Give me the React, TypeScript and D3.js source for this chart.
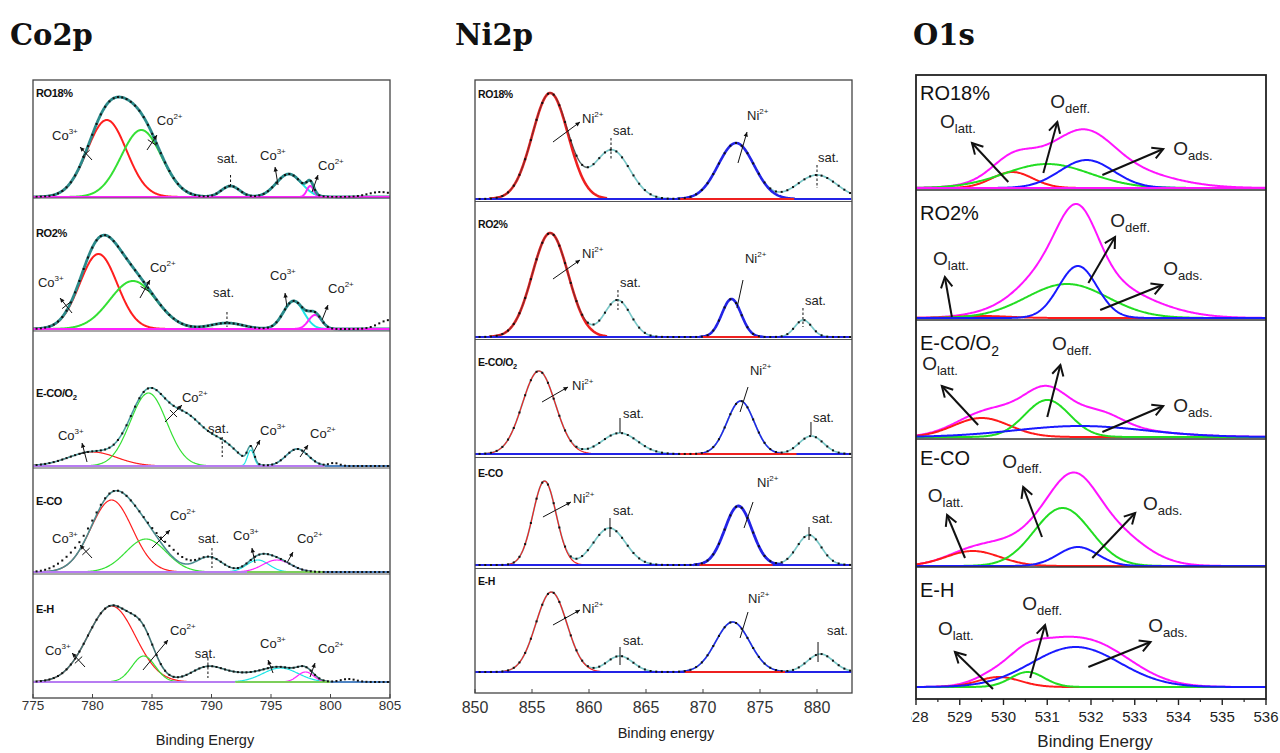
import React from 'react';
import * as d3 from 'd3';

type Peak = { kind: string; c: number; h: number; w: number }; // c: eV, h: a.u., w: FWHM in eV
type Note = {
  text: string;
  sup?: string;
  sub?: string;
  at: [number, number];
  line?: [number, number, number, number];
  head?: boolean;
  cross?: boolean;
  dash?: boolean;
};

const sampleNames = ['RO18%', 'RO2%', 'E-CO/O2', 'E-CO', 'E-H'];

// ---------------- Co2p ----------------
const coTicks = [775, 780, 785, 790, 795, 800, 805];

const coRO18Peaks: Peak[] = [
  { kind: 'co3', c: 781.2, h: 77, w: 3.9 },
  { kind: 'co2', c: 784.1, h: 67, w: 4.0 },
  { kind: 'sat', c: 791.6, h: 11, w: 1.8 },
  { kind: 'co3b', c: 796.5, h: 23, w: 2.5 },
  { kind: 'co2b', c: 798.3, h: 11, w: 0.7 },
];
const coRO18Raw: Peak[] = [{ kind: 'raw', c: 804.2, h: 5, w: 2.5 }];
const coRO18Notes: Note[] = [
  { text: 'Co', sup: '3+', at: [776.6, 57], line: [779.96, 37, 778.95, 50], head: true, cross: true },
  { text: 'Co', sup: '2+', at: [785.4, 72], line: [784.58, 47, 785.42, 62], head: true, cross: true },
  { text: 'sat.', at: [790.46, 34], line: [791.6, 22, 791.6, 10], dash: true },
  { text: 'Co', sup: '3+', at: [794.08, 37], line: [795.59, 12, 795.34, 30], head: true },
  { text: 'Co', sup: '2+', at: [798.95, 27], line: [798.45, 5, 798.95, 22], head: true },
];

const coRO2Peaks: Peak[] = [
  { kind: 'co3', c: 780.5, h: 75, w: 3.7 },
  { kind: 'co2', c: 783.4, h: 48, w: 4.6 },
  { kind: 'sat', c: 791.3, h: 6, w: 3.2 },
  { kind: 'co3b', c: 796.9, h: 28, w: 2.0 },
  { kind: 'co2b', c: 798.7, h: 14, w: 1.3 },
];
const coRO2Raw: Peak[] = [{ kind: 'raw', c: 805, h: 9, w: 2.2 }];
const coRO2Notes: Note[] = [
  { text: 'Co', sup: '3+', at: [775.42, 42], line: [778.28, 16, 777.27, 31], head: true, cross: true },
  { text: 'Co', sup: '2+', at: [784.83, 57], line: [783.99, 31, 784.83, 49], head: true, cross: true },
  { text: 'sat.', at: [790.13, 32], line: [791.3, 17, 791.3, 2], dash: true },
  { text: 'Co', sup: '3+', at: [794.92, 49], line: [796.34, 22, 796.18, 36], head: true },
  { text: 'Co', sup: '2+', at: [799.79, 36], line: [799.29, 9, 799.79, 24], head: true },
];

const coECOO2Peaks: Peak[] = [
  { kind: 'co3', c: 780.0, h: 14, w: 4.8 },
  { kind: 'co2', c: 784.7, h: 73, w: 3.6 },
  { kind: 'sat', c: 788.0, h: 44, w: 3.5 },
  { kind: 'sat', c: 791.0, h: 20, w: 3.0 },
  { kind: 'co3b', c: 793.3, h: 16, w: 0.65 },
  { kind: 'co2b', c: 797.2, h: 17, w: 2.2 },
];
const coECOO2Raw: Peak[] = [{ kind: 'raw', c: 800.3, h: 3, w: 1 }];
const coECOO2Notes: Note[] = [
  { text: 'Co', sup: '3+', at: [777.1, 26], line: [779.54, 4, 779.12, 23], head: true, cross: true },
  { text: 'Co', sup: '2+', at: [787.52, 64], line: [786.09, 44, 787.52, 61], head: true, cross: true },
  { text: 'sat.', at: [789.71, 33], line: [790.9, 29, 790.9, 9], dash: true },
  { text: 'Co', sup: '3+', at: [794.08, 31], line: [793.49, 13, 794.08, 26], head: true },
  { text: 'Co', sup: '2+', at: [798.28, 28], line: [797.44, 9, 798.11, 21], head: true },
];

const coECOPeaks: Peak[] = [
  { kind: 'co3', c: 781.6, h: 72, w: 4.1 },
  { kind: 'co2', c: 784.5, h: 33, w: 4.0 },
  { kind: 'sat', c: 789.8, h: 15, w: 2.6 },
  { kind: 'co3b', c: 793.9, h: 12, w: 2.2 },
  { kind: 'co2b', c: 795.5, h: 12, w: 2.8 },
];
const coECORaw: Peak[] = [
  { kind: 'raw', c: 778.3, h: 9, w: 3 },
  { kind: 'raw', c: 786.8, h: 8, w: 2.5 },
];
const coECONotes: Note[] = [
  { text: 'Co', sup: '3+', at: [776.6, 29], line: [779.96, 14, 778.95, 27], head: true, cross: true },
  { text: 'Co', sup: '2+', at: [786.51, 52], line: [785.0, 24, 786.51, 42], head: true, cross: true },
  { text: 'sat.', at: [788.87, 29], line: [790.04, 24, 790.04, 4], dash: true },
  { text: 'Co', sup: '3+', at: [791.81, 32], line: [793.66, 9, 793.4, 24], head: true },
  { text: 'Co', sup: '2+', at: [797.18, 29], line: [796.34, 9, 796.85, 20], head: true },
];

const coEHPeaks: Peak[] = [
  { kind: 'co3', c: 781.6, h: 76, w: 4.7 },
  { kind: 'co2', c: 784.3, h: 26, w: 2.3 },
  { kind: 'sat', c: 789.6, h: 14, w: 3.2 },
  { kind: 'sat', c: 792.5, h: 7, w: 4 },
  { kind: 'co3b', c: 795.8, h: 14, w: 3.5 },
  { kind: 'co2b', c: 797.9, h: 10, w: 1.6 },
];
const coEHRaw: Peak[] = [{ kind: 'raw', c: 801.5, h: 3, w: 1.5 }];
const coEHNotes: Note[] = [
  { text: 'Co', sup: '3+', at: [776.0, 27], line: [779.37, 15, 778.28, 29], head: true, cross: true },
  { text: 'Co', sup: '2+', at: [786.51, 47], line: [784.24, 12, 786.34, 42], head: true },
  { text: 'sat.', at: [788.6, 24], line: [789.7, 24, 789.7, 4], dash: true },
  { text: 'Co', sup: '3+', at: [794.08, 34], line: [795.17, 9, 794.75, 22], head: true },
  { text: 'Co', sup: '2+', at: [798.95, 29], line: [798.28, 5, 798.7, 19], head: true },
];

// ---------------- Ni2p ----------------
const niTicks = [850, 855, 860, 865, 870, 875, 880];

const niRO18Peaks: Peak[] = [
  { kind: 'p32', c: 856.6, h: 106, w: 3.7 },
  { kind: 'sat', c: 862.0, h: 49, w: 3.7 },
  { kind: 'p12', c: 872.9, h: 56, w: 3.7 },
  { kind: 'sat', c: 880.0, h: 24, w: 4.1 },
];
const niRO18Notes: Note[] = [
  { text: 'Ni', sup: '2+', at: [859.39, 76], line: [856.84, 57, 859.21, 77], head: true },
  { text: 'sat.', at: [862.1, 64], line: [861.93, 61, 861.93, 39], dash: true },
  { text: 'Ni', sup: '2+', at: [873.86, 79], line: [873.07, 36, 873.86, 67], head: true },
  { text: 'sat.', at: [880.09, 37], line: [880, 34, 880, 11], dash: true },
];

const niRO2Peaks: Peak[] = [
  { kind: 'p32', c: 856.6, h: 104, w: 3.7 },
  { kind: 'sat', c: 862.5, h: 37, w: 2.7 },
  { kind: 'p12', c: 872.5, h: 38, w: 2.0 },
  { kind: 'sat', c: 878.8, h: 17, w: 1.75 },
];
const niRO2Notes: Note[] = [
  { text: 'Ni', sup: '2+', at: [859.39, 79], line: [856.84, 58, 859.21, 77], head: true },
  { text: 'sat.', at: [862.72, 50], line: [862.54, 47, 862.54, 27], dash: true },
  { text: 'Ni', sup: '2+', at: [873.68, 74], line: [872.98, 29, 873.51, 57] },
  { text: 'sat.', at: [878.95, 32], line: [878.77, 29, 878.77, 10], dash: true },
];

const niECOO2Peaks: Peak[] = [
  { kind: 'p32', c: 855.6, h: 83, w: 3.4 },
  { kind: 'sat', c: 862.7, h: 21, w: 3.7 },
  { kind: 'p12', c: 873.3, h: 53, w: 2.8 },
  { kind: 'sat', c: 879.5, h: 18, w: 2.5 },
];
const niECOO2Notes: Note[] = [
  { text: 'Ni', sup: '2+', at: [858.51, 64], line: [855.88, 52, 858.16, 67], head: true },
  { text: 'sat.', at: [862.98, 36], line: [862.72, 36, 862.72, 21] },
  { text: 'Ni', sup: '2+', at: [874.12, 79], line: [873.25, 42, 873.95, 67] },
  { text: 'sat.', at: [879.65, 32], line: [879.47, 32, 879.47, 19] },
];

const niECOPeaks: Peak[] = [
  { kind: 'p32', c: 856.1, h: 84, w: 2.4 },
  { kind: 'sat', c: 861.8, h: 37, w: 3.3 },
  { kind: 'p12', c: 873.1, h: 59, w: 2.8 },
  { kind: 'sat', c: 879.3, h: 30, w: 2.5 },
];
const niECONotes: Note[] = [
  { text: 'Ni', sup: '2+', at: [858.6, 62], line: [855.96, 48, 858.42, 63], head: true },
  { text: 'sat.', at: [862.1, 50], line: [861.84, 47, 861.84, 28] },
  { text: 'Ni', sup: '2+', at: [874.74, 78], line: [873.6, 37, 874.39, 63] },
  { text: 'sat.', at: [879.56, 42], line: [879.3, 38, 879.3, 25] },
];

const niEHPeaks: Peak[] = [
  { kind: 'p32', c: 856.7, h: 80, w: 3.2 },
  { kind: 'sat', c: 862.7, h: 16, w: 2.7 },
  { kind: 'p12', c: 872.6, h: 50, w: 3.5 },
  { kind: 'sat', c: 880.3, h: 18, w: 2.7 },
];
const niEHNotes: Note[] = [
  { text: 'Ni', sup: '2+', at: [859.39, 59], line: [856.84, 47, 859.21, 62], head: true },
  { text: 'sat.', at: [862.98, 27], line: [862.72, 25, 862.72, 7] },
  { text: 'Ni', sup: '2+', at: [873.95, 69], line: [873.25, 34, 873.95, 60] },
  { text: 'sat.', at: [880.88, 37], line: [880.09, 30, 880.09, 10] },
];

// red (2p3/2 side) baseline pieces under the 2p1/2 peak, eV
const niRedBase: [number, number][] = [
  [868, 878],
  [870, 875],
  [868, 878.2],
  [869.7, 876.1],
  [868.4, 877.2],
];

// ---------------- O1s ----------------
const oTicks = [528, 529, 530, 531, 532, 533, 534, 535, 536];

const oRO18Peaks: Peak[] = [
  { kind: 'latt', c: 530.2, h: 16, w: 1.1 },
  { kind: 'deff', c: 531.0, h: 24, w: 2.3 },
  { kind: 'ads', c: 531.9, h: 28, w: 1.45 },
  { kind: 'rest', c: 532.6, h: 18, w: 2.6 },
];
const oRO18Notes: Note[] = [
  { text: 'O', sub: 'latt.', at: [528.55, 60], line: [530.11, 6, 529.28, 45], head: true },
  { text: 'O', sub: 'deff.', at: [531.07, 80], line: [530.91, 15, 531.23, 66], head: true },
  { text: 'O', sub: 'ads.', at: [533.88, 33], line: [532.26, 13, 533.65, 39], head: true },
];

const oRO2Peaks: Peak[] = [
  { kind: 'latt', c: 529.5, h: 2, w: 1.5 },
  { kind: 'deff', c: 531.45, h: 34, w: 2.2 },
  { kind: 'ads', c: 531.7, h: 52, w: 1.03 },
  { kind: 'rest', c: 531.2, h: 22, w: 1.8 },
  { kind: 'rest', c: 532.7, h: 18, w: 2.4 },
];
const oRO2Notes: Note[] = [
  { text: 'O', sub: 'latt.', at: [528.39, 53], line: [528.82, 1, 528.66, 41], head: true },
  { text: 'O', sub: 'deff.', at: [532.44, 91], line: [531.94, 35, 532.55, 81], head: true },
  { text: 'O', sub: 'ads.', at: [533.65, 43], line: [532.21, 8, 533.63, 33], head: true },
];

const oECOO2Peaks: Peak[] = [
  { kind: 'latt', c: 529.5, h: 19, w: 1.5 },
  { kind: 'deff', c: 531.0, h: 37, w: 1.2 },
  { kind: 'ads', c: 531.75, h: 11, w: 3.5 },
  { kind: 'rest', c: 532.2, h: 14, w: 1.2 },
  { kind: 'rest', c: 530.2, h: 8, w: 1.2 },
];
const oECOO2Notes: Note[] = [
  { text: 'O', sub: 'latt.', at: [528.14, 67], line: [529.42, 12, 528.59, 51], head: true },
  { text: 'O', sub: 'deff.', at: [531.11, 87], line: [531.0, 20, 531.3, 72], head: true },
  { text: 'O', sub: 'ads.', at: [533.88, 25], line: [532.26, 5, 533.65, 31], head: true },
];

const oECOPeaks: Peak[] = [
  { kind: 'latt', c: 529.3, h: 15, w: 1.45 },
  { kind: 'deff', c: 531.35, h: 58, w: 1.52 },
  { kind: 'ads', c: 531.7, h: 19, w: 1.07 },
  { kind: 'rest', c: 532.4, h: 35, w: 1.8 },
  { kind: 'rest', c: 530.2, h: 14, w: 1.4 },
];
const oECONotes: Note[] = [
  { text: 'O', sub: 'latt.', at: [528.27, 64], line: [529.12, 8, 528.71, 51], head: true },
  { text: 'O', sub: 'deff.', at: [529.97, 98], line: [530.88, 29, 530.45, 79], head: true },
  { text: 'O', sub: 'ads.', at: [533.19, 56], line: [532.03, 8, 533.01, 53], head: true },
];

const oEHPeaks: Peak[] = [
  { kind: 'latt', c: 529.9, h: 10, w: 1.14 },
  { kind: 'deff', c: 530.55, h: 15, w: 0.9 },
  { kind: 'ads', c: 531.65, h: 40, w: 2.37 },
  { kind: 'rest', c: 532.4, h: 10, w: 2.0 },
  { kind: 'rest', c: 531.15, h: 6, w: 1.0 },
];
const oEHNotes: Note[] = [
  { text: 'O', sub: 'latt.', at: [528.5, 52], line: [529.76, -2, 528.89, 35], head: true },
  { text: 'O', sub: 'deff.', at: [530.43, 77], line: [530.61, 9, 530.95, 62], head: true },
  { text: 'O', sub: 'ads.', at: [533.31, 55], line: [531.94, 20, 533.36, 45], head: true },
];

// ---------------- helpers ----------------
type Lin = d3.ScaleLinear<number, number>;
const SANS = '"Liberation Sans", Arial, Helvetica, sans-serif';

const gauss = (p: Peak, v: number) => p.h * Math.exp((-4 * Math.LN2 * (v - p.c) ** 2) / (p.w * p.w));
const total = (ps: Peak[], v: number) => d3.sum(ps, (p) => gauss(p, v));

function curve(x: Lin, y: Lin, a: number, b: number, step: number, f: (v: number) => number) {
  const xs = d3.range(a, b + step / 2, step);
  return d3.line<number>().x((v) => x(v)).y((v) => y(f(v)))(xs) || '';
}

function Label({ name, x, y, size, bold }: { name: string; x: number; y: number; size: number; bold?: boolean }) {
  const m = name.match(/^(.*O)2$/);
  return (
    <text x={x} y={y} fontSize={size} fontWeight={bold ? 'bold' : 'normal'} fontFamily={SANS} fill="#111"
      letterSpacing={bold ? -0.4 : 0}>
      {m ? (
        <>
          {m[1]}
          <tspan fontSize={size * 0.7} dy={size * 0.28}>2</tspan>
        </>
      ) : (
        name
      )}
    </text>
  );
}

function Mark({ n, x, y, big }: { n: Note; x: Lin; y: Lin; big?: boolean }) {
  const out: React.ReactNode[] = [];
  if (n.line) {
    const [a, b, c, d] = n.line;
    const x1 = x(a), y1 = y(b), x2 = x(c), y2 = y(d);
    const t = Math.atan2(y2 - y1, x2 - x1);
    out.push(
      <line key="l" x1={x1} y1={y1} x2={x2} y2={y2} stroke="#111" strokeWidth={big ? 2 : 1}
        strokeDasharray={n.dash ? '2.5,2' : undefined} />
    );
    if (n.head) {
      const L = big ? 12 : 5;
      const phi = big ? 0.5 : 0.45;
      const p1 = [x2 - L * Math.cos(t - phi), y2 - L * Math.sin(t - phi)];
      const p2 = [x2 - L * Math.cos(t + phi), y2 - L * Math.sin(t + phi)];
      const pts = `${p1} ${x2},${y2} ${p2}`;
      out.push(
        big ? (
          <polyline key="h" points={pts} fill="none" stroke="#111" strokeWidth={2} />
        ) : (
          <polygon key="h" points={pts} fill="#111" />
        )
      );
    }
    if (n.cross) {
      const mx = (x1 + x2) / 2, my = (y1 + y2) / 2, k = 5;
      out.push(
        <line key="c" x1={mx - k * Math.sin(t)} y1={my + k * Math.cos(t)} x2={mx + k * Math.sin(t)}
          y2={my - k * Math.cos(t)} stroke="#111" strokeWidth={1} />
      );
    }
  }
  out.push(
    <text key="t" x={x(n.at[0])} y={y(n.at[1])} fontSize={big ? 19 : 13} fontFamily={SANS} fill="#222">
      {n.text}
      {n.sup && <tspan fontSize={8} dy={-6}>{n.sup}</tspan>}
      {n.sub && <tspan fontSize={13} dy={5}>{n.sub}</tspan>}
    </text>
  );
  return <g>{out}</g>;
}

// ---------------- panels ----------------
const coSets = [
  { peaks: coRO18Peaks, raw: coRO18Raw, notes: coRO18Notes },
  { peaks: coRO2Peaks, raw: coRO2Raw, notes: coRO2Notes },
  { peaks: coECOO2Peaks, raw: coECOO2Raw, notes: coECOO2Notes },
  { peaks: coECOPeaks, raw: coECORaw, notes: coECONotes },
  { peaks: coEHPeaks, raw: coEHRaw, notes: coEHNotes },
];
const niSets = [
  { peaks: niRO18Peaks, notes: niRO18Notes },
  { peaks: niRO2Peaks, notes: niRO2Notes },
  { peaks: niECOO2Peaks, notes: niECOO2Notes },
  { peaks: niECOPeaks, notes: niECONotes },
  { peaks: niEHPeaks, notes: niEHNotes },
];
const oSets = [
  { peaks: oRO18Peaks, notes: oRO18Notes },
  { peaks: oRO2Peaks, notes: oRO2Notes },
  { peaks: oECOO2Peaks, notes: oECOO2Notes },
  { peaks: oECOPeaks, notes: oECONotes },
  { peaks: oEHPeaks, notes: oEHNotes },
];

const coColor: Record<string, string> = { co3: '#ff1f1f', co2: '#35e035', co3b: '#1ee6e6', co2b: '#ff22ff' };
const coEnv = ['#2b8a8a', '#2b8a8a', '#4a9e9e', '#4b8d8f', '#3f7070'];
const coCompW = [2, 2, 1.2, 1.2, 1.2];
const coEnvW = [2.8, 2.8, 1.6, 1.6, 1.6];
const LAV = '#b77cf2', GRN = '#7ccf5a', BLU = '#4f84c4';
const coBaseSegs: [number, number, string][][] = [
  [[775, 805, '#ff22ff']],
  [[775, 805, '#ff22ff']],
  [[775, 799.5, LAV], [799.5, 805, BLU]],
  [[775, 793, LAV], [793, 799.5, GRN], [799.5, 805, BLU]],
  [[775, 792, LAV], [792, 800, GRN], [800, 805, BLU]],
];

function CoPanel() {
  const L = { x0: 33, x1: 390, top: 80, bottom: 698, seps: [198, 331, 468, 574], bases: [197, 329, 466, 572, 682], labelY: [97, 237, 397, 505, 613] };
  const x = d3.scaleLinear().domain([775, 805]).range([L.x0, L.x1]);
  return (
    <g>
      {coSets.map((s, i) => {
        const y = d3.scaleLinear().domain([0, 100]).range([L.bases[i], L.bases[i] - 100]);
        const all = s.peaks.concat(s.raw);
        return (
          <g key={i}>
            {s.peaks
              .filter((p) => p.kind !== 'sat')
              .map((p, j) => {
                const col = i === 2 && p.kind === 'co2b' ? '#5a62c8' : coColor[p.kind];
                return (
                  <path key={j} d={curve(x, y, Math.max(775, p.c - 2.2 * p.w), Math.min(805, p.c + 2.2 * p.w), 0.04, (v) => gauss(p, v))}
                    fill="none" stroke={col} strokeWidth={coCompW[i]} />
                );
              })}
            <path d={curve(x, y, 775, 805, 0.04, (v) => total(s.peaks, v))} fill="none" stroke={coEnv[i]} strokeWidth={coEnvW[i]} />
            {coBaseSegs[i].map(([a, b, col], j) => (
              <line key={'b' + j} x1={x(a)} x2={x(b)} y1={y(0)} y2={y(0)} stroke={col} strokeWidth={2} />
            ))}
            {d3.range(775.3, 805, 0.36).map((v, j) => (
              <rect key={'d' + j} x={x(v) - 1} y={y(total(all, v)) - 1} width={2} height={2} fill="#111" />
            ))}
            {s.notes.map((n, j) => <Mark key={'n' + j} n={n} x={x} y={y} />)}
            <Label name={sampleNames[i]} x={36} y={L.labelY[i]} size={11} bold />
          </g>
        );
      })}
      {L.seps.map((v) => (
        <line key={v} x1={L.x0} x2={L.x1} y1={v} y2={v} stroke="#555" strokeWidth={1} />
      ))}
      <rect x={L.x0} y={L.top} width={L.x1 - L.x0} height={L.bottom - L.top} fill="none" stroke="#444" strokeWidth={1.3} />
      {coTicks.map((t) => (
        <g key={t}>
          <line x1={x(t)} x2={x(t)} y1={L.bottom} y2={L.bottom - 4} stroke="#444" />
          <text x={x(t)} y={710} textAnchor="middle" fontSize={13.5} fontFamily={SANS} fill="#333">{t}</text>
        </g>
      ))}
      <text x={205} y={745} textAnchor="middle" fontSize={14.5} fontFamily={SANS} fill="#222">Binding Energy</text>
    </g>
  );
}

const NI_RED = '#ee2020', NI_BLUE = '#2323e6', NI_ENV = '#7cc8c8';
const niRedW = [2.6, 2.6, 1.2, 1.2, 1.2];
const niBlueW = [2.6, 2.6, 1.5, 2.8, 1.5];

function NiPanel() {
  const L = { x0: 475, top: 80, bottom: 693, right: 852, seps: [200, 338, 456, 567], bases: [199, 337, 454, 565, 672], labelY: [98, 228, 366, 477, 585] };
  const x = d3.scaleLinear().domain([850, 883]).range([475, 475 + 33 * 11.4]);
  return (
    <g>
      {niSets.map((s, i) => {
        const y = d3.scaleLinear().domain([0, 100]).range([L.bases[i], L.bases[i] - 100]);
        const main = s.peaks.find((p) => p.kind === 'p32')!;
        const so = s.peaks.find((p) => p.kind === 'p12')!;
        const env = (v: number) => total(s.peaks, v);
        return (
          <g key={i}>
            <path d={curve(x, y, 850, 883, 0.05, env)} fill="none" stroke={NI_ENV} strokeWidth={1.7} />
            <path d={curve(x, y, main.c - 1.45 * main.w, main.c + 1.35 * main.w, 0.05, (v) => gauss(main, v))}
              fill="none" stroke={NI_RED} strokeWidth={niRedW[i]} />
            {i < 2 && (
              <path d={curve(x, y, main.c - 1.45 * main.w, main.c + 0.9 * main.w, 0.05, env)} fill="none" stroke="#6a2d2d" strokeWidth={1} />
            )}
            <path d={curve(x, y, so.c - 1.4 * so.w, so.c + 1.4 * so.w, 0.05, (v) => gauss(so, v))}
              fill="none" stroke={NI_BLUE} strokeWidth={niBlueW[i]} />
            <line x1={x(850)} x2={x(883)} y1={y(0)} y2={y(0)} stroke={NI_BLUE} strokeWidth={2} />
            <line x1={x(niRedBase[i][0])} x2={x(niRedBase[i][1])} y1={y(0)} y2={y(0)} stroke={NI_RED} strokeWidth={2} />
            {d3.range(850.4, 883, 0.5).map((v, j) => (
              <rect key={'d' + j} x={x(v) - 1} y={y(env(v)) - 1} width={2} height={2} fill="#111" />
            ))}
            {s.notes.map((n, j) => <Mark key={'n' + j} n={n} x={x} y={y} />)}
            <Label name={sampleNames[i]} x={478} y={L.labelY[i]} size={10.5} bold />
          </g>
        );
      })}
      {L.seps.map((v) => (
        <line key={v} x1={L.x0} x2={L.right} y1={v + 1.5} y2={v + 1.5} stroke="#555" strokeWidth={1} />
      ))}
      <rect x={L.x0} y={L.top} width={L.right - L.x0} height={L.bottom - L.top} fill="none" stroke="#444" strokeWidth={1.3} />
      {niTicks.map((t) => (
        <g key={t}>
          <line x1={x(t)} x2={x(t)} y1={L.bottom} y2={L.bottom - 4} stroke="#444" />
          <text x={x(t)} y={713} textAnchor="middle" fontSize={16} fontFamily={SANS} fill="#333">{t}</text>
        </g>
      ))}
      <text x={666} y={738} textAnchor="middle" fontSize={14.5} fontFamily={SANS} fill="#222">Binding energy</text>
    </g>
  );
}

const oColor: Record<string, string> = { latt: '#ff1a1a', deff: '#22dd22', ads: '#1a1aff' };
const O_ENV = '#ff14ff';

function OPanel() {
  const L = { x0: 916, x1: 1266, top: 75, bottom: 699, seps: [190, 320, 439, 567], bases: [188, 318, 437, 566, 687], labelY: [100, 220, 350, 465, 597] };
  const x = d3.scaleLinear().domain([528, 536]).range([L.x0, L.x1]);
  const minor = d3.range(528.5, 536, 1);
  return (
    <g>
      <defs>
        <clipPath id="oTickClip">
          <rect x={911} y={700} width={369} height={53} />
        </clipPath>
      </defs>
      {oSets.map((s, i) => {
        const y = d3.scaleLinear().domain([0, 100]).range([L.bases[i], L.bases[i] - 100]);
        const comps = s.peaks.filter((p) => p.kind !== 'rest');
        return (
          <g key={i}>
            <path d={curve(x, y, 528, 536, 0.02, (v) => total(s.peaks, v))} fill="none" stroke={O_ENV} strokeWidth={2} />
            {comps.map((p, j) => (
              <path key={j} d={curve(x, y, 528, 536, 0.02, (v) => gauss(p, v))} fill="none" stroke={oColor[p.kind]} strokeWidth={2} />
            ))}
            {i === 0 && (
              <line x1={x(528)} x2={x(536)} y1={y(0)} y2={y(0)} stroke={O_ENV} strokeWidth={2} />
            )}
            {s.notes.map((n, j) => <Mark key={'n' + j} n={n} x={x} y={y} big />)}
            <Label name={sampleNames[i]} x={920} y={L.labelY[i]} size={20} />
          </g>
        );
      })}
      {L.seps.map((v) => (
        <line key={v} x1={L.x0} x2={L.x1} y1={v} y2={v} stroke="#333" strokeWidth={1.4} />
      ))}
      <rect x={L.x0} y={L.top} width={L.x1 - L.x0} height={L.bottom - L.top} fill="none" stroke="#222" strokeWidth={1.8} />
      {oTicks.map((t) => (
        <line key={t} x1={x(t)} x2={x(t)} y1={L.bottom} y2={L.bottom + 6} stroke="#222" strokeWidth={1.4} />
      ))}
      {minor.map((t) => (
        <line key={t} x1={x(t)} x2={x(t)} y1={L.bottom} y2={L.bottom + 3} stroke="#222" strokeWidth={1.2} />
      ))}
      <g clipPath="url(#oTickClip)">
        {oTicks.map((t) => (
          <text key={t} x={x(t)} y={722} textAnchor="middle" fontSize={15} fontFamily={SANS} fill="#222">{t}</text>
        ))}
      </g>
      <text x={1095} y={747} textAnchor="middle" fontSize={17} fontFamily={SANS} fill="#222">Binding Energy</text>
    </g>
  );
}

export default function App() {
  const serif = '"DejaVu Serif", "Liberation Serif", serif';
  return (
    <svg width={1280} height={753} style={{ position: 'absolute', left: 0, top: 0, background: '#fff' }}>
      <rect width={1280} height={753} fill="#fff" />
      <text x={10} y={45} fontSize={29} fontWeight="bold" fontFamily={serif} fill="#111">Co2p</text>
      <text x={455} y={45} fontSize={29} fontWeight="bold" fontFamily={serif} fill="#111">Ni2p</text>
      <text x={913} y={45} fontSize={29} fontWeight="bold" fontFamily={serif} fill="#111">O1s</text>
      <CoPanel />
      <NiPanel />
      <OPanel />
    </svg>
  );
}
